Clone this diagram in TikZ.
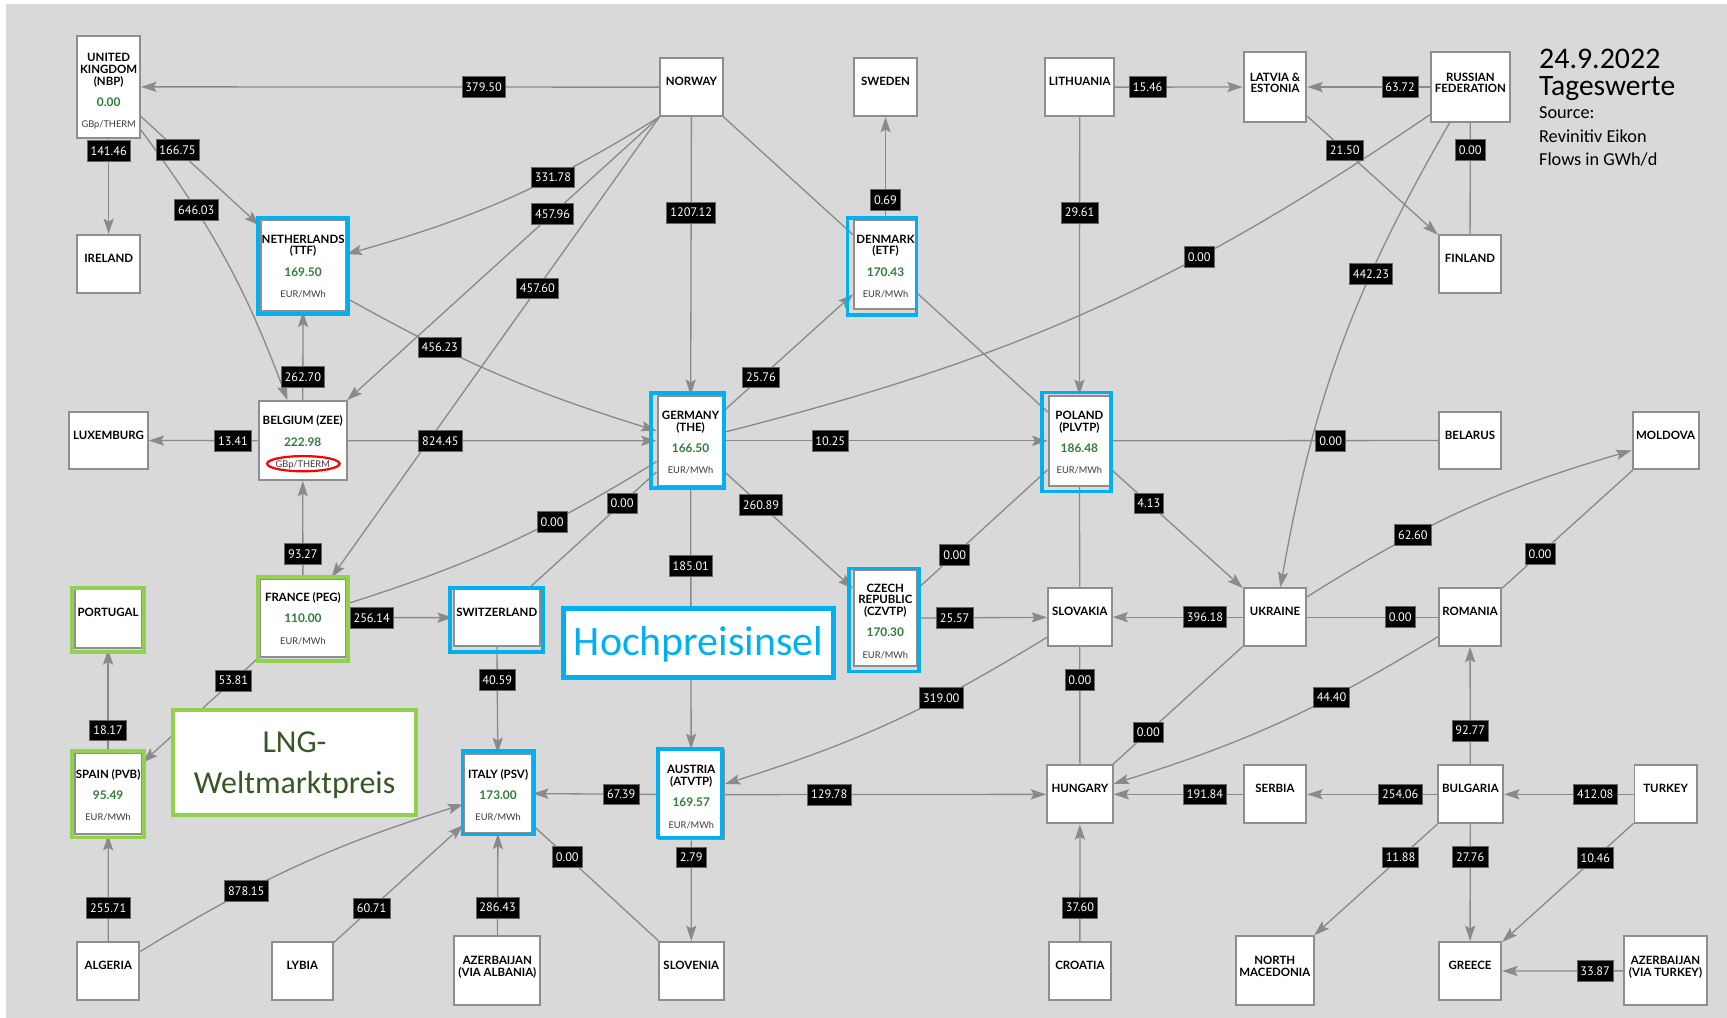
\documentclass[tikz,border=0pt]{standalone}
\usepackage{fontspec}
\usetikzlibrary{arrows.meta}
\newfontfamily\lblfont{Lato}
\newfontfamily\valfont{PT Sans}
\newfontfamily\callfont{Carlito}

\definecolor{bggray}{HTML}{D9D9D9}
\definecolor{linegray}{HTML}{8A8A8A}
\definecolor{boxgray}{HTML}{8E8E8E}
\definecolor{hubblue}{HTML}{00B0F0}
\definecolor{lnggreen}{HTML}{92D050}
\definecolor{pricegreen}{HTML}{2E7D3A}
\definecolor{unitgray}{HTML}{3A3A3A}
\definecolor{lngtext}{HTML}{385723}

\pgfdeclarelayer{bg}
\pgfdeclarelayer{edges}
\pgfsetlayers{bg,edges,main}

% box content: width, height, first baseline, lines
\newcommand\boxtext[4]{\parbox[c][#2][t]{#1}{\centering\hyphenpenalty=10000\exhyphenpenalty=10000
  \lblfont\fontsize{5.2}{5.3}\selectfont\rule{0pt}{#3}#4\par}}
\newcommand\nm[1]{{\bfseries #1}}
\newcommand\pr[1]{{\bfseries\fontsize{5.4}{5.3}\selectfont\color{pricegreen}#1}}
\newcommand\un[1]{{\fontsize{4.2}{5.3}\selectfont\color{unitgray}#1}}
% hub or country box: name, x, y, width, height, first baseline, text
\newcommand\cbx[7]{\node[cbox] (#1) at (#2,#3) {\boxtext{#4}{#5}{#6}{#7}};}
% coloured frame round a box: node, style, NW shift, SE shift
\newcommand\frm[4]{\draw[#2] ([shift={(#3)}]#1.north west) rectangle ([shift={(#4)}]#1.south east);}

\begin{document}
\begin{tikzpicture}[x=0.5pt,y=-0.5pt,
  cbox/.style={draw=boxgray,line width=0.9pt,fill=white,inner sep=0pt},
  hubfr/.style={draw=hubblue,line width=1.7pt},
  lngfr/.style={draw=lnggreen,line width=1.7pt},
  hpibox/.style={draw=hubblue,line width=2.35pt,fill=white,inner sep=0pt},
  lngbox/.style={draw=lnggreen,line width=1.8pt,fill=white,inner sep=0pt},
  flow/.style={draw=linegray,line width=0.6pt},
  arr/.style={flow,-{Stealth[length=7pt,width=4.6pt,inset=1.3pt]}},
  val/.style={fill=black,draw=black!60,line width=0.3pt,text=white,
    font=\valfont\fontsize{5.6}{6}\selectfont,inner xsep=1.6pt,inner ysep=0pt,
    minimum height=9.4pt,text depth=0pt},
  ttl/.style={anchor=base west,inner sep=0pt,text=black}]

\useasboundingbox (0,0) rectangle (1568,924);
\begin{pgfonlayer}{bg}
  \fill[white] (0,0) rectangle (1568,924);
  \fill[bggray] (5.5,3.6) rectangle (1568,924);
\end{pgfonlayer}

% ---------- trading hubs ----------
\cbx{uk}{98.65}{78.85}{28.5pt}{46.15pt}{11.65pt}{\nm{UNITED\\KINGDOM\\(NBP)}\\[4.25pt]\pr{0.00}\\[4.5pt]\un{GBp/THERM}}
\cbx{nl}{275.2}{241}{38.5pt}{41pt}{10.45pt}{\nm{NETHERLANDS\\(TTF)}\\[4.35pt]\pr{169.50}\\[4.4pt]\un{EUR/MWh}}
\cbx{dk}{804}{240.5}{28.5pt}{40.5pt}{10.45pt}{\nm{DENMARK\\(ETF)}\\[4.35pt]\pr{170.43}\\[4.4pt]\un{EUR/MWh}}
\cbx{be}{274.85}{400.1}{39.95pt}{35.7pt}{10.7pt}{\nm{BELGIUM~(ZEE)}\\[4.4pt]\pr{222.98}\\[4.4pt]\un{GBp/THERM}}
\cbx{de}{627}{400.25}{30pt}{40.75pt}{10.9pt}{\nm{GERMANY\\(THE)}\\[4.1pt]\pr{166.50}\\[4.35pt]\un{EUR/MWh}}
\cbx{pl}{980}{400.25}{28pt}{40.75pt}{10.9pt}{\nm{POLAND\\(PLVTP)}\\[4.1pt]\pr{186.48}\\[4.35pt]\un{EUR/MWh}}
\cbx{cz}{803.8}{561.25}{28.5pt}{43.75pt}{10pt}{\nm{CZECH\\REPUBLIC\\(CZVTP)}\\[4.4pt]\pr{170.30}\\[4.4pt]\un{EUR/MWh}}
\cbx{fr}{275.05}{560.8}{38.75pt}{35.4pt}{10.4pt}{\nm{FRANCE~(PEG)}\\[4.4pt]\pr{110.00}\\[4.4pt]\un{EUR/MWh}}
\cbx{es}{98.15}{720.6}{30.35pt}{36.6pt}{11.45pt}{\nm{SPAIN~(PVB)}\\[4.25pt]\pr{95.49}\\[4.4pt]\un{EUR/MWh}}
\cbx{it}{452.25}{720.3}{30.75pt}{35.7pt}{11.15pt}{\nm{ITALY~(PSV)}\\[4.25pt]\pr{173.00}\\[4.4pt]\un{EUR/MWh}}
\cbx{at}{627.6}{721.5}{29.6pt}{40.5pt}{10.7pt}{\nm{AUSTRIA\\(ATVTP)}\\[4.4pt]\pr{169.57}\\[4.4pt]\un{EUR/MWh}}
\cbx{ch}{451}{560.75}{39pt}{25.75pt}{12.3pt}{\nm{SWITZERLAND}}
\cbx{pt}{98.15}{561.8}{30.35pt}{26.8pt}{12.3pt}{\nm{PORTUGAL}}

% ---------- other countries ----------
\cbx{ie}{98.65}{239.55}{28.5pt}{26.15pt}{12.5pt}{\nm{IRELAND}}
\cbx{no}{627.8}{79.15}{28.3pt}{26.15pt}{12.4pt}{\nm{NORWAY}}
\cbx{se}{804}{79.15}{28.35pt}{26.15pt}{12.4pt}{\nm{SWEDEN}}
\cbx{lt}{980.3}{79.15}{31.3pt}{26.15pt}{12.4pt}{\nm{LITHUANIA}}
\cbx{lv}{1157.65}{79}{28.5pt}{31.5pt}{13.15pt}{\nm{LATVIA~\&\\ESTONIA}}
\cbx{ru}{1335}{79}{36pt}{31.5pt}{13.15pt}{\nm{RUSSIAN\\FEDERATION}}
\cbx{fi}{1334.65}{239.55}{28.35pt}{26.15pt}{12.5pt}{\nm{FINLAND}}
\cbx{lu}{98.5}{399.95}{35.6pt}{26.15pt}{12.5pt}{\nm{LUXEMBURG}}
\cbx{by}{1334.65}{399.95}{28.35pt}{26.15pt}{12.5pt}{\nm{BELARUS}}
\cbx{md}{1512.25}{399.95}{30.05pt}{26.15pt}{12.5pt}{\nm{MOLDOVA}}
\cbx{sk}{980.35}{560.35}{28.85pt}{26.15pt}{12.5pt}{\nm{SLOVAKIA}}
\cbx{ua}{1157.6}{560.35}{28.4pt}{26.15pt}{12.5pt}{\nm{UKRAINE}}
\cbx{ro}{1334.65}{560.35}{28.35pt}{26.15pt}{12.5pt}{\nm{ROMANIA}}
\cbx{hu}{980.5}{721.2}{29.7pt}{26.3pt}{12.5pt}{\nm{HUNGARY}}
\cbx{rs}{1157.6}{721.2}{28.4pt}{26.3pt}{12.5pt}{\nm{SERBIA}}
\cbx{bg}{1335}{721.2}{29.7pt}{26.3pt}{12.5pt}{\nm{BULGARIA}}
\cbx{tr}{1512.3}{721.2}{28.3pt}{26.3pt}{12.5pt}{\nm{TURKEY}}
\cbx{dz}{98.35}{881.65}{28.15pt}{26.35pt}{12.5pt}{\nm{ALGERIA}}
\cbx{ly}{274.5}{881.65}{27.8pt}{26.35pt}{12.5pt}{\nm{LYBIA}}
\cbx{aza}{451.55}{881.45}{39.05pt}{31.35pt}{13pt}{\nm{AZERBAIJAN\\(VIA~ALBANIA)}}
\cbx{si}{627.65}{881.65}{29.55pt}{26.35pt}{12.5pt}{\nm{SLOVENIA}}
\cbx{hr}{980.45}{881.65}{28.35pt}{26.35pt}{12.5pt}{\nm{CROATIA}}
\cbx{mk}{1157.45}{881.45}{35.25pt}{31.35pt}{13pt}{\nm{NORTH\\MACEDONIA}}
\cbx{gr}{1334.65}{881.65}{28.35pt}{26.35pt}{12.5pt}{\nm{GREECE}}
\cbx{azt}{1512.15}{881.45}{37.35pt}{31.35pt}{13pt}{\nm{AZERBAIJAN\\(VIA~TURKEY)}}

% ---------- highlight frames ----------
\frm{nl}{hubfr}{-1.5,-1.0}{1.6,2.3}
\frm{dk}{hubfr}{-5.1,-1.0}{-1.2,3.9}
\frm{de}{hubfr}{-4.9,-1.6}{-0.8,1.3}
\frm{pl}{hubfr}{-5.1,-2.2}{-0.5,4.3}
\frm{cz}{hubfr}{-3.9,-0.4}{1.0,3.7}
\frm{ch}{hubfr}{-2.3,-0.3}{2.0,4.4}
\frm{it}{hubfr}{-0.8,-1.6}{0.7,0.7}
\frm{at}{hubfr}{0.1,0.1}{-2.7,-2.6}
\frm{fr}{lngfr}{-1.4,-0.7}{1.0,3.1}
\frm{pt}{lngfr}{-1.5,-0.3}{1.2,2.3}
\frm{es}{lngfr}{-1.5,-1.0}{1.2,2.2}
\draw[red,line width=1pt] ([shift={(0.55,20.9)}]be.center) ellipse [x radius=16.45pt,y radius=3.45pt];

% ---------- callouts ----------
\node[hpibox] (hpi) at (634.15,583.7)
  {\parbox[c][31.35pt][t]{122.8pt}{\centering\callfont\fontsize{19}{20}\selectfont\color{hubblue}\rule{0pt}{21.6pt}Hochpreisinsel\par}};
\node[lngbox] (lng) at (267.4,692.15)
  {\parbox[c][47.55pt][t]{110.6pt}{\centering\callfont\fontsize{14.5}{18.45}\selectfont\color{lngtext}\rule{0pt}{19.4pt}LNG-\\Weltmarktpreis\par}};

% ---------- heading ----------
\node[ttl,font=\callfont\fontsize{13.6}{14}\selectfont] (date) at (1397,62) {24.9.2022};
\node[ttl,font=\callfont\fontsize{13.4}{14}\selectfont] (tagw) at (1397,86.3) {Tageswerte};
\node[ttl,font=\callfont\fontsize{8.3}{9}\selectfont] (srca) at (1397,107.8) {Source:};
\node[ttl,font=\callfont\fontsize{8.3}{9}\selectfont] (srcb) at (1397,129.5) {Revinitiv Eikon};
\node[ttl,font=\callfont\fontsize{8.3}{9}\selectfont] (unitnote) at (1397,150.7) {Flows in GWh/d};

% ---------- gas flows ----------
\begin{pgfonlayer}{edges}
\draw[arr] (no) -- coordinate[pos=.339] (v1) (uk);
\draw[arr] (uk) -- coordinate[pos=.127] (v2) (ie);
\draw[arr] (uk) -- coordinate[pos=.308] (v3) (nl);
\draw[arr] (uk) to[bend left=8] coordinate[pos=.3] (v4) (be);
\draw[arr] (no.south west) to[bend left=8] coordinate[pos=.345] (v5) (nl);
\draw[arr] (no.south west) -- coordinate[pos=.342] (v6) (be);
\draw[arr] (no.south west) -- coordinate[pos=.372] (v7) (fr);
\draw[arr] (no) -- coordinate[pos=.344] (v8) (de);
\draw[flow] (no.south east) -- (pl);
\draw[arr] (dk) -- coordinate[pos=.188] (v9) (se);
\draw[arr] (de) -- coordinate[pos=.283] (v10) (dk);
\draw[arr] (nl.-37) to[bend right=6] coordinate[pos=.298] (v11) (de);
\draw[arr] (be) -- coordinate[pos=.265] (v12) (nl);
\draw[arr] (be) -- coordinate[pos=.227] (v13) (lu);
\draw[arr] (be) -- coordinate[pos=.3] (v14) (de);
\draw[arr] (fr) -- coordinate[pos=.247] (v15) (be);
\draw[flow] (fr) to[bend right=7] coordinate[pos=.66] (v16) (de);
\draw[flow] (ch) -- coordinate[pos=.73] (v17) (de);
\draw[arr] (fr) -- coordinate[pos=.236] (v18) (ch);
\draw[arr] (de) -- coordinate[pos=.327] (v19) (pl);
\draw[flow] (ru) to[bend left=10] coordinate[pos=.336] (v20) (de);
\draw[arr] (de) -- coordinate[pos=.283] (v21) (cz);
\draw[arr] (de) -- coordinate[pos=.301] (v22) (at);
\draw[flow] (cz) -- coordinate[pos=.285] (v23) (pl);
\draw[arr] (cz) -- coordinate[pos=.286] (v24) (sk);
\draw[arr] (lt) -- coordinate[pos=.344] (v25) (pl);
\draw[arr] (lt) -- coordinate[pos=.255] (v26) (lv);
\draw[arr] (ru) -- coordinate[pos=.242] (v27) (lv);
\draw[arr] (lv) -- coordinate[pos=.286] (v28) (fi);
\draw[flow] (ru) -- coordinate[pos=.244] (v29) (fi);
\draw[arr] (ru) to[bend right=10] coordinate[pos=.33] (v30) (ua);
\draw[flow] (pl) -- coordinate[pos=.672] (v31) (by);
\draw[arr] (pl) -- coordinate[pos=.286] (v32) (ua);
\draw[flow] (pl) -- (sk);
\draw[arr] (ua) -- coordinate[pos=.29] (v33) (sk);
\draw[flow] (ua) -- coordinate[pos=.712] (v34) (ro);
\draw[arr] (ua) to[bend left=8] coordinate[pos=.33] (v35) (md);
\draw[flow] (ro) -- coordinate[pos=.29] (v36) (md);
\draw[arr] (sk) to[bend left=7] coordinate[pos=.33] (v37) (at);
\draw[flow] (sk) -- coordinate[pos=.281] (v38) (hu);
\draw[flow] (ua) -- coordinate[pos=.727] (v39) (hu);
\draw[arr] (ro) to[bend left=7] coordinate[pos=.33] (v40) (hu);
\draw[arr] (at) -- coordinate[pos=.325] (v41) (hu);
\draw[arr] (rs) -- coordinate[pos=.292] (v42) (hu);
\draw[arr] (bg) -- coordinate[pos=.282] (v43) (rs);
\draw[arr] (bg) -- coordinate[pos=.288] (v44) (ro);
\draw[arr] (tr) -- coordinate[pos=.295] (v45) (bg);
\draw[arr] (bg) -- coordinate[pos=.298] (v46) (mk);
\draw[arr] (bg) -- coordinate[pos=.281] (v47) (gr);
\draw[arr] (tr) -- coordinate[pos=.291] (v48) (gr);
\draw[arr] (azt) -- coordinate[pos=.233] (v49) (gr);
\draw[arr] (hr) -- coordinate[pos=.287] (v50) (hu);
\draw[arr] (at) -- coordinate[pos=.17] (v51) (si);
\draw[flow] (it) -- coordinate[pos=.273] (v52) (si);
\draw[arr] (at) -- coordinate[pos=.292] (v53) (it);
\draw[arr] (ch) -- coordinate[pos=.311] (v54) (it);
\draw[arr] (aza) -- coordinate[pos=.273] (v55) (it);
\draw[arr] (ly) -- coordinate[pos=.291] (v56) (it);
\draw[arr] (dz) to[bend left=7] coordinate[pos=.33] (v57) (it);
\draw[arr] (dz) -- coordinate[pos=.315] (v58) (es);
\draw[arr] (es) -- coordinate[pos=.213] (v59) (pt);
\draw[arr] (fr) -- coordinate[pos=.222] (v60) (es);
\end{pgfonlayer}

% ---------- flow values ----------
\foreach \c/\t in {v1/379.50,v2/141.46,v3/166.75,v4/646.03,v5/331.78,v6/457.96,
  v7/457.60,v8/1207.12,v9/0.69,v10/25.76,v11/456.23,v12/262.70,v13/13.41,
  v14/824.45,v15/93.27,v16/0.00,v17/0.00,v18/256.14,v19/10.25,v20/0.00,
  v21/260.89,v22/185.01,v23/0.00,v24/25.57,v25/29.61,v26/15.46,v27/63.72,
  v28/21.50,v29/0.00,v30/442.23,v31/0.00,v32/4.13,v33/396.18,v34/0.00,
  v35/62.60,v36/0.00,v37/319.00,v38/0.00,v39/0.00,v40/44.40,v41/129.78,
  v42/191.84,v43/254.06,v44/92.77,v45/412.08,v46/11.88,v47/27.76,v48/10.46,
  v49/33.87,v50/37.60,v51/2.79,v52/0.00,v53/67.39,v54/40.59,v55/286.43,
  v56/60.71,v57/878.15,v58/255.71,v59/18.17,v60/53.81}
  \node[val] (l\c) at (\c) {\t};
\end{tikzpicture}
\end{document}
